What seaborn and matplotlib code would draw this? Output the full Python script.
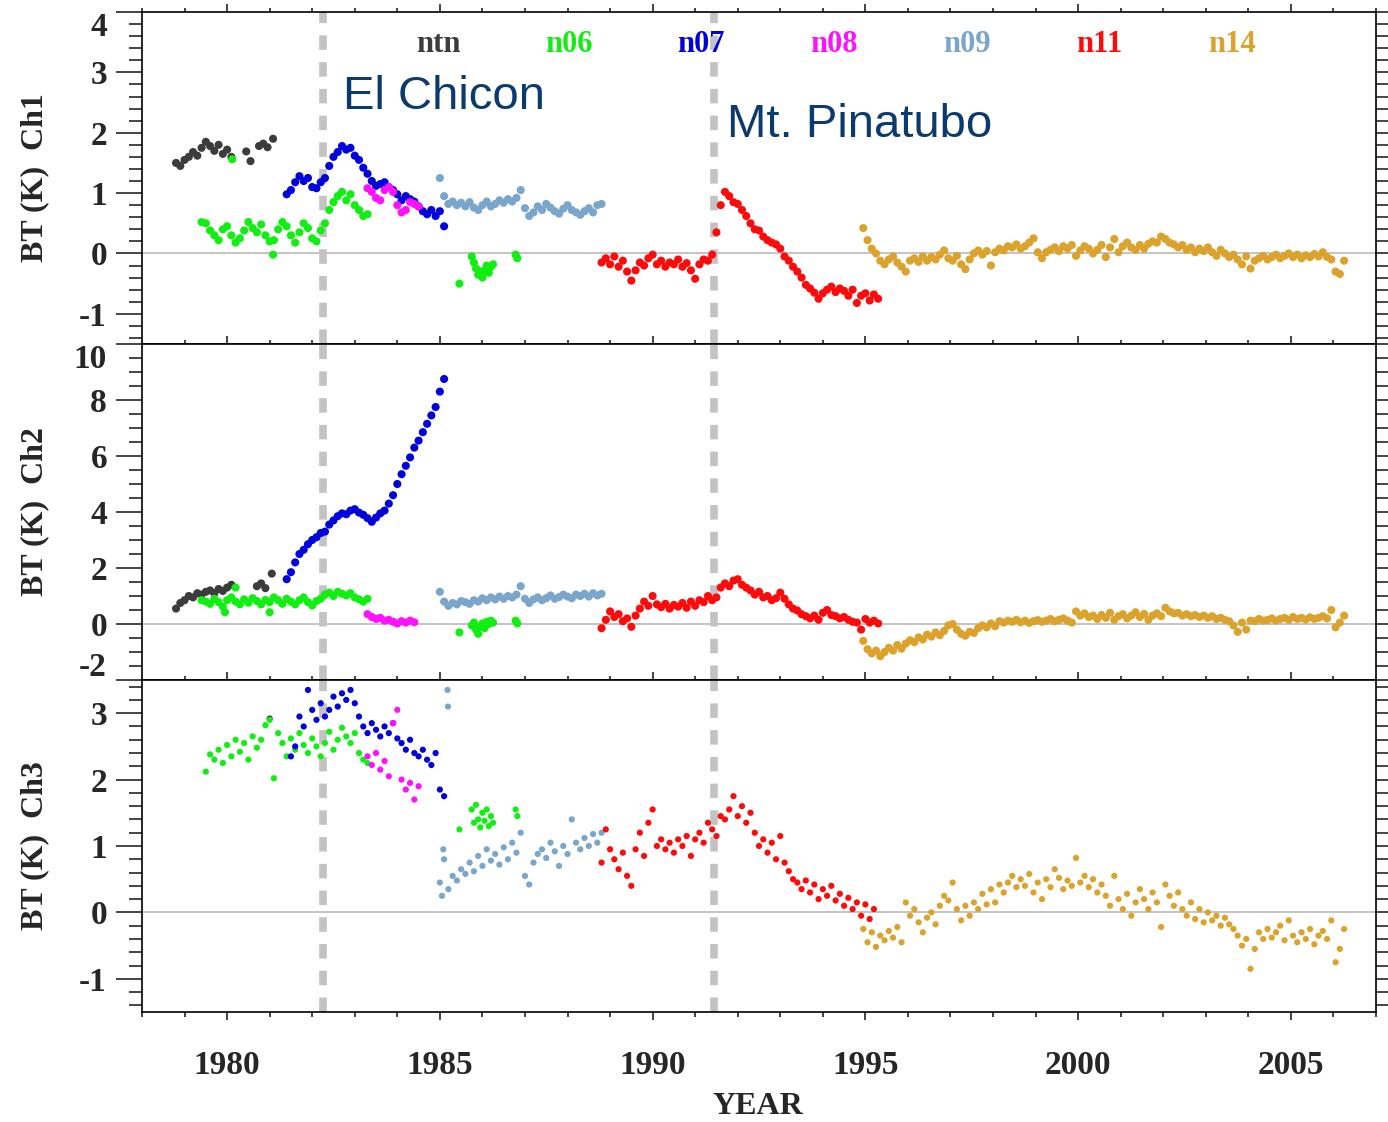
import numpy as np
import pandas as pd
import matplotlib
matplotlib.use("Agg")
import matplotlib.pyplot as plt
from matplotlib.ticker import MultipleLocator, FixedLocator
import seaborn as sns

# ---------------------------------------------------------------
# Satellites, colours and event years
# ---------------------------------------------------------------
satellites = ["ntn", "n06", "n07", "n08", "n09", "n11", "n14"]
sat_colors = ["#3c3c3c", "#11ee11", "#0000dd", "#ff11ff", "#7aa6cb", "#ff0a0a", "#dba22c"]
events = ["El Chicon", "Mt. Pinatubo"]
event_years = [1982.25, 1991.45]
STEP = 0.1  # sampling interval of the anomaly series (years)

# ---------------------------------------------------------------
# Channel 1 brightness-temperature anomalies (K)
# ---------------------------------------------------------------
ch1_start = {"ntn": 1978.8, "n06": 1979.4, "n07": 1981.4, "n08": 1983.3,
             "n09": 1985.0, "n11": 1988.8, "n14": 1994.95}
ch1_ntn = [1.50, 1.45, 1.55, 1.60, 1.68, 1.62, 1.75, 1.85, 1.78, 1.70, 1.80, 1.65, 1.72, 1.60]
ch1_n06 = [0.52, 0.50, 0.38, 0.30, 0.22, 0.40, 0.45, 0.30, 0.18, 0.25, 0.38, 0.52, 0.42, 0.35,
           0.48, 0.30, 0.20, 0.22, 0.40, 0.52, 0.45, 0.30, 0.18, 0.35, 0.50, 0.42, 0.25, 0.20,
           0.38, 0.50, 0.72, 0.85, 0.95, 1.02, 0.88, 0.98, 0.80, 0.72, 0.62, 0.65]
ch1_n07 = [0.98, 1.05, 1.18, 1.28, 1.20, 1.25, 1.10, 1.08, 1.18, 1.25, 1.45, 1.60, 1.68, 1.78,
           1.72, 1.75, 1.62, 1.55, 1.42, 1.32, 1.20, 1.12, 1.15, 1.18, 1.10, 1.05, 0.98, 0.88,
           0.95, 0.90, 0.86, 0.78, 0.70, 0.65, 0.72, 0.62, 0.70, 0.45]
ch1_n08 = [1.08, 1.02, 0.92, 0.88, 1.05, 1.10, 1.02, 0.80, 0.68, 0.72, 0.85, 0.82, 0.78]
ch1_n09 = [1.25, 0.95, 0.82, 0.86, 0.80, 0.84, 0.78, 0.85, 0.76, 0.72, 0.80, 0.86, 0.78, 0.82,
           0.88, 0.84, 0.90, 0.86, 0.92, 1.05, 0.75, 0.62, 0.68, 0.78, 0.72, 0.82, 0.76, 0.70,
           0.66, 0.74, 0.80, 0.72, 0.68, 0.64, 0.70, 0.75, 0.68, 0.80, 0.82]
ch1_n11 = [-0.15, -0.08, -0.18, -0.05, -0.22, -0.12, -0.30, -0.45, -0.28, -0.15, -0.20, -0.08,
           -0.02, -0.18, -0.12, -0.22, -0.15, -0.18, -0.10, -0.22, -0.16, -0.28, -0.42, -0.18,
           -0.10, -0.12, -0.02, 0.35, 0.80, 1.02, 0.95, 0.85, 0.82, 0.72, 0.62, 0.50, 0.40,
           0.38, 0.28, 0.22, 0.18, 0.15, 0.08, -0.05, -0.12, -0.22, -0.30, -0.40, -0.52, -0.58,
           -0.65, -0.75, -0.66, -0.60, -0.55, -0.64, -0.58, -0.62, -0.70, -0.60, -0.82, -0.70,
           -0.66, -0.78, -0.68, -0.75]
ch1_n14 = [0.42, 0.22, 0.08, 0.00, -0.12, -0.18, -0.10, -0.05, -0.15, -0.22, -0.30, -0.12,
           -0.08, -0.14, -0.05, -0.12, -0.06, -0.10, -0.02, 0.05, -0.08, -0.12, -0.04, -0.18,
           -0.26, -0.10, 0.00, 0.05, -0.02, 0.04, -0.20, 0.02, 0.08, 0.05, 0.12, 0.10, 0.15,
           0.08, 0.12, 0.18, 0.25, 0.02, -0.08, 0.02, 0.06, 0.10, 0.04, 0.12, 0.08, 0.14, -0.04,
           0.05, 0.12, 0.08, 0.00, 0.06, 0.14, -0.06, 0.10, 0.24, 0.02, 0.12, 0.18, 0.10, 0.06,
           0.14, 0.08, 0.16, 0.20, 0.18, 0.28, 0.24, 0.18, 0.15, 0.10, 0.14, 0.06, 0.10, 0.02,
           0.08, 0.04, 0.10, 0.02, -0.04, 0.06, 0.00, -0.06, -0.02, -0.10, -0.18, -0.05, -0.25,
           -0.12, -0.08, -0.04, -0.10, -0.06, -0.02, -0.08, -0.04, 0.00, -0.06, -0.02, -0.08,
           -0.03, -0.06, -0.01, -0.05, 0.02, -0.06, -0.10, -0.30, -0.34, -0.12]
ch1_extra_sat = ["ntn", "ntn", "ntn", "ntn", "ntn", "ntn", "n06", "n06",
                 "n06", "n06", "n06", "n06", "n06", "n06", "n06", "n06", "n06", "n06", "n06", "n06", "n06", "n06"]
ch1_extra_year = [1980.45, 1980.55, 1980.75, 1980.85, 1980.95, 1981.08, 1980.12, 1981.08,
                  1985.46, 1985.75, 1985.80, 1985.85, 1985.90, 1985.95, 1986.00, 1986.05, 1986.10,
                  1986.15, 1986.20, 1986.25, 1986.78, 1986.82]
ch1_extra_val = [1.69, 1.53, 1.78, 1.82, 1.76, 1.90, 1.56, -0.02,
                 -0.50, -0.05, -0.15, -0.25, -0.35, -0.30, -0.40, -0.28, -0.20,
                 -0.32, -0.22, -0.18, -0.02, -0.08]

# ---------------------------------------------------------------
# Channel 2 brightness-temperature anomalies (K)
# ---------------------------------------------------------------
ch2_start = {"ntn": 1978.8, "n06": 1979.4, "n07": 1981.4, "n08": 1983.3,
             "n09": 1985.0, "n11": 1988.8, "n14": 1994.95}
ch2_ntn = [0.55, 0.75, 0.85, 1.00, 0.95, 1.10, 1.05, 1.15, 1.20, 1.10, 1.25, 1.18, 1.30, 1.40]
ch2_n06 = [0.85, 0.80, 0.72, 0.90, 0.78, 0.62, 0.85, 0.95, 0.80, 0.70, 0.88, 0.76, 0.92, 0.82,
           0.70, 0.86, 0.78, 0.95, 0.85, 0.72, 0.90, 0.80, 0.70, 0.85, 0.95, 0.78, 0.66, 0.82,
           0.90, 1.05, 1.12, 1.00, 1.15, 1.08, 1.02, 1.10, 0.95, 0.88, 0.80, 0.90]
ch2_n07 = [1.60, 1.85, 2.20, 2.50, 2.65, 2.85, 3.00, 3.10, 3.25, 3.30, 3.55, 3.70, 3.85, 3.95,
           3.92, 4.05, 4.10, 3.98, 3.90, 3.78, 3.65, 3.80, 3.95, 4.05, 4.30, 4.60, 5.00, 5.35,
           5.65, 5.95, 6.30, 6.55, 6.85, 7.15, 7.45, 7.75, 8.30, 8.75]
ch2_n08 = [0.35, 0.25, 0.18, 0.22, 0.12, 0.15, 0.08, 0.02, 0.10, 0.05, 0.12, 0.06]
ch2_n09 = [1.15, 0.80, 0.65, 0.75, 0.70, 0.82, 0.78, 0.72, 0.85, 0.80, 0.92, 0.85, 0.95, 0.88,
           0.98, 0.90, 1.00, 0.95, 1.05, 1.35, 0.90, 0.75, 0.88, 0.95, 0.85, 0.92, 1.02, 0.90,
           0.96, 1.05, 0.98, 0.92, 1.05, 1.00, 1.08, 0.98, 1.10, 1.02, 1.08]
ch2_n11 = [-0.15, 0.15, 0.45, 0.25, 0.35, 0.10, 0.20, -0.10, 0.30, 0.55, 0.80, 0.65, 1.00, 0.70,
           0.60, 0.72, 0.55, 0.68, 0.62, 0.75, 0.58, 0.80, 0.65, 0.85, 0.78, 1.00, 0.85, 0.95,
           1.30, 1.45, 1.35, 1.55, 1.60, 1.40, 1.30, 1.20, 1.05, 1.15, 0.95, 1.00, 0.85, 0.92,
           1.12, 0.90, 0.70, 0.55, 0.48, 0.35, 0.28, 0.20, 0.30, 0.15, 0.40, 0.50, 0.32, 0.28,
           0.20, 0.25, 0.15, 0.08, 0.05, -0.20, 0.18, 0.05, 0.12, 0.02]
ch2_n14 = [-0.60, -0.90, -1.05, -0.95, -1.15, -1.00, -0.85, -0.95, -0.75, -0.88, -0.70, -0.58,
           -0.65, -0.48, -0.55, -0.38, -0.45, -0.30, -0.40, -0.25, -0.05, 0.00, -0.20, -0.35,
           -0.42, -0.28, -0.32, -0.15, -0.05, -0.12, 0.02, -0.08, 0.10, 0.05, 0.12, 0.08, 0.15,
           0.06, 0.12, 0.04, 0.10, 0.14, 0.08, 0.12, 0.18, 0.10, 0.15, 0.20, 0.12, 0.05, 0.45,
           0.30, 0.38, 0.25, 0.30, 0.18, 0.32, 0.22, 0.40, 0.15, 0.28, 0.35, 0.20, 0.30, 0.42,
           0.25, 0.36, 0.15, 0.30, 0.38, 0.28, 0.58, 0.45, 0.38, 0.40, 0.30, 0.35, 0.28, 0.32,
           0.25, 0.30, 0.22, 0.28, 0.18, 0.22, 0.15, 0.10, -0.05, -0.28, 0.05, -0.20, 0.12, 0.10,
           0.18, 0.12, 0.15, 0.20, 0.12, 0.18, 0.22, 0.15, 0.25, 0.18, 0.22, 0.16, 0.24, 0.18,
           0.22, 0.28, 0.20, 0.50, -0.12, 0.05, 0.30]
ch2_extra_sat = ["ntn", "ntn", "ntn", "ntn", "n06", "n06", "n06",
                 "n06", "n06", "n06", "n06", "n06", "n06", "n06", "n06", "n06", "n06", "n06",
                 "n06", "n06", "n06"]
ch2_extra_year = [1980.70, 1980.80, 1980.90, 1981.05, 1979.95, 1980.20, 1981.00,
                  1985.46, 1985.75, 1985.80, 1985.85, 1985.90, 1985.95, 1986.00, 1986.05,
                  1986.10, 1986.15, 1986.20, 1986.25, 1986.78, 1986.82]
ch2_extra_val = [1.35, 1.45, 1.28, 1.80, 0.42, 1.30, 0.42,
                 -0.30, -0.05, 0.05, -0.20, -0.35, -0.10, 0.02, -0.15,
                 0.08, 0.00, 0.12, 0.05, 0.12, 0.02]

# ---------------------------------------------------------------
# Channel 3 brightness-temperature anomalies (K)
# ---------------------------------------------------------------
ch3_start = {"n06": 1979.5, "n07": 1981.5, "n08": 1983.3,
             "n09": 1985.0, "n11": 1988.8, "n14": 1994.95}
ch3_n06 = [2.12, 2.38, 2.30, 2.45, 2.25, 2.52, 2.35, 2.60, 2.42, 2.55, 2.30, 2.65, 2.48, 2.60,
           2.82, 2.90, 2.02, 2.70, 2.55, 2.35, 2.62, 2.45, 2.70, 2.52, 2.40, 2.62, 2.50, 2.35,
           2.55, 2.72, 2.45, 2.60, 2.78, 2.65, 2.55, 2.70, 2.40, 2.30, 2.25]
ch3_n07 = [2.35, 2.50, 2.95, 2.80, 3.35, 3.05, 2.90, 3.15, 2.95, 3.05, 3.25, 3.10, 3.30, 3.20,
           3.35, 3.15, 2.95, 2.80, 2.70, 2.85, 2.75, 2.65, 2.80, 2.70, 2.85, 2.62, 2.55, 2.45,
           2.60, 2.40, 2.35, 2.45, 2.30, 2.22, 2.40, 1.85, 1.75]
ch3_n08 = [2.35, 2.22, 2.40, 2.15, 2.28, 2.05, 2.85, 3.05, 2.00, 1.85, 1.95, 1.70, 1.90]
ch3_n09 = [0.45, 0.80, 0.35, 0.55, 0.48, 0.65, 0.58, 0.75, 0.62, 0.85, 0.70, 0.95, 0.78, 0.88,
           0.72, 0.98, 0.80, 1.05, 0.90, 1.20, 0.55, 0.42, 0.75, 0.88, 0.95, 0.82, 1.05, 0.92,
           0.70, 1.00, 0.88, 1.40, 1.05, 0.95, 1.12, 1.00, 1.18, 1.05, 1.20]
ch3_n11 = [0.75, 1.25, 0.95, 0.80, 0.65, 0.90, 0.55, 0.40, 0.95, 1.20, 0.85, 1.35, 1.55, 1.00,
           1.10, 0.95, 1.05, 0.90, 1.10, 1.00, 1.15, 0.85, 1.10, 1.20, 1.05, 1.35, 1.25, 1.15,
           1.45, 1.40, 1.55, 1.75, 1.45, 1.60, 1.35, 1.50, 1.20, 1.00, 1.10, 0.90, 1.05, 0.80,
           1.15, 0.75, 0.62, 0.50, 0.45, 0.35, 0.48, 0.30, 0.42, 0.20, 0.35, 0.25, 0.40, 0.18,
           0.28, 0.10, 0.22, 0.05, 0.15, -0.05, 0.12, -0.10, 0.05]
ch3_n14 = [-0.25, -0.45, -0.30, -0.52, -0.35, -0.42, -0.28, -0.38, -0.22, -0.45, 0.15, -0.05,
           0.05, -0.15, -0.30, -0.08, 0.00, -0.18, 0.10, 0.25, 0.18, 0.45, 0.05, -0.12, 0.10,
           -0.05, 0.15, 0.05, 0.28, 0.12, 0.35, 0.15, 0.42, 0.30, 0.45, 0.55, 0.38, 0.50, 0.40,
           0.58, 0.30, 0.45, 0.20, 0.50, 0.38, 0.65, 0.52, 0.35, 0.48, 0.40, 0.82, 0.45, 0.55,
           0.38, 0.50, 0.30, 0.42, 0.25, 0.10, 0.55, 0.20, 0.05, 0.28, -0.05, 0.15, 0.35, 0.20,
           0.05, 0.30, 0.15, -0.22, 0.42, 0.25, 0.10, 0.30, 0.05, -0.05, 0.15, -0.10, 0.05,
           -0.15, 0.00, -0.12, -0.05, -0.20, -0.08, -0.18, -0.25, -0.35, -0.50, -0.40, -0.85,
           -0.55, -0.30, -0.40, -0.25, -0.38, -0.30, -0.20, -0.42, -0.12, -0.35, -0.45, -0.30,
           -0.40, -0.25, -0.48, -0.35, -0.28, -0.40, -0.12, -0.75, -0.55, -0.25]
ch3_extra_sat = ["ntn", "n09", "n09", "n09", "n09",
                 "n06", "n06", "n06", "n06", "n06", "n06", "n06", "n06", "n06", "n06", "n06",
                 "n06", "n06", "n06"]
ch3_extra_year = [1981.00, 1985.18, 1985.19, 1985.05, 1985.08,
                  1985.46, 1985.75, 1985.80, 1985.85, 1985.90, 1985.95, 1986.00, 1986.05,
                  1986.10, 1986.15, 1986.20, 1986.25, 1986.78, 1986.82]
ch3_extra_val = [2.92, 3.35, 3.10, 0.25, 0.95,
                 1.25, 1.55, 1.35, 1.62, 1.40, 1.28, 1.50, 1.38, 1.55, 1.30, 1.45, 1.35, 1.55, 1.45]

# axis settings for each panel
y_limits = [(-1.5, 4.0), (-2.0, 10.0), (-1.5, 3.5)]
y_major = [[-1, 0, 1, 2, 3, 4], [-2, 0, 2, 4, 6, 8, 10], [-1, 0, 1, 2, 3]]
y_minor_step = [0.2, 0.5, 0.2]
y_titles = ["BT (K)  Ch1", "BT (K)  Ch2", "BT (K)  Ch3"]
x_major = [1980, 1985, 1990, 1995, 2000, 2005]


def channel_frame(starts, series, extra_sat, extra_year, extra_val):
    parts = []
    for sat in satellites:
        if sat not in series:
            continue
        vals = np.asarray(series[sat], dtype=float)
        years = starts[sat] + STEP * np.arange(len(vals))
        parts.append(pd.DataFrame({"sat": sat, "year": years, "bt": vals}))
    parts.append(pd.DataFrame({"sat": extra_sat, "year": extra_year, "bt": extra_val}))
    df = pd.concat(parts, ignore_index=True)
    order = {s: i for i, s in enumerate(satellites)}
    df["rank"] = df["sat"].map(order)
    return df.sort_values(["rank", "year"], kind="stable").reset_index(drop=True)


frames = [
    channel_frame(ch1_start, {"ntn": ch1_ntn, "n06": ch1_n06, "n07": ch1_n07, "n08": ch1_n08,
                              "n09": ch1_n09, "n11": ch1_n11, "n14": ch1_n14},
                  ch1_extra_sat, ch1_extra_year, ch1_extra_val),
    channel_frame(ch2_start, {"ntn": ch2_ntn, "n06": ch2_n06, "n07": ch2_n07, "n08": ch2_n08,
                              "n09": ch2_n09, "n11": ch2_n11, "n14": ch2_n14},
                  ch2_extra_sat, ch2_extra_year, ch2_extra_val),
    channel_frame(ch3_start, {"n06": ch3_n06, "n07": ch3_n07, "n08": ch3_n08,
                              "n09": ch3_n09, "n11": ch3_n11, "n14": ch3_n14},
                  ch3_extra_sat, ch3_extra_year, ch3_extra_val),
]

# ---------------------------------------------------------------
# Figure
# ---------------------------------------------------------------
sns.set_style("white")
plt.rcParams["font.family"] = ["Liberation Serif", "DejaVu Serif"]
plt.rcParams["font.weight"] = "bold"
plt.rcParams["axes.linewidth"] = 1.2

W, H = 1388, 1122
fig = plt.figure(figsize=(W / 100, H / 100), dpi=100)
palette = dict(zip(satellites, sat_colors))

left, right = 142 / W, 1376 / W
edges_px = [12, 344, 680, 1012]
axes = []
for i in range(3):
    top = 1 - edges_px[i] / H
    bot = 1 - edges_px[i + 1] / H
    axes.append(fig.add_axes([left, bot, right - left, top - bot]))

PX = 0.72  # points per pixel at 100 dpi
marker_sizes = [34, 34, 20]
for i, ax in enumerate(axes):
    sns.scatterplot(data=frames[i], x="year", y="bt", hue="sat", palette=palette,
                    hue_order=satellites, s=marker_sizes[i], linewidth=0, legend=False,
                    ax=ax, zorder=3)
    ax.axhline(0, color="#b4b4b4", lw=1.1, zorder=1)
    for ey in event_years:
        ax.axvline(ey, color="#c3c3c3", lw=5.5, linestyle=(0, (1.9, 1.6)), zorder=2)
    ax.set_xlim(1978, 2007)
    ax.set_ylim(*y_limits[i])
    ax.set_xlabel("")
    ax.set_ylabel("")

    # y ticks: labels at the panel edges are nudged inward
    lo, hi = y_limits[i]
    ticks = y_major[i]
    ax.yaxis.set_major_locator(FixedLocator(ticks))
    ax.yaxis.set_minor_locator(MultipleLocator(y_minor_step[i]))
    labels = []
    for t in ticks:
        if t == hi or t == lo:
            labels.append("")
            shift = -16 if t == hi else 12
            ax.annotate(f"{t:g}", xy=(0, t), xycoords=("axes fraction", "data"),
                        xytext=(-(26 + 9) * PX, shift * PX), textcoords="offset points",
                        ha="right", va="center", fontsize=24, fontweight="bold")
        else:
            labels.append(f"{t:g}")
    ax.set_yticklabels(labels)
    ax.tick_params(axis="y", which="major", direction="out", length=26 * PX, width=1.2,
                   left=True, right=True, labelsize=24, pad=9 * PX)
    ax.tick_params(axis="y", which="minor", direction="out", length=13 * PX, width=1.2,
                   left=True, right=True)

    ax.xaxis.set_major_locator(FixedLocator(x_major))
    ax.xaxis.set_minor_locator(MultipleLocator(1))
    last = i == 2
    ax.tick_params(axis="x", which="major", direction="out", length=8 * PX, width=1.2,
                   top=True, bottom=last, labelbottom=last, labelsize=24, pad=30 * PX)
    ax.tick_params(axis="x", which="minor", direction="out", length=4.5 * PX, width=1.2,
                   top=True, bottom=last)
    for sp in ax.spines.values():
        sp.set_visible(True)
        sp.set_color("black")

# satellite legend across the top panel
legend_x = [438, 569, 701, 834, 967, 1099, 1232]
for sat, col, xp in zip(satellites, sat_colors, legend_x):
    fig.text(xp / W, 1 - 44 / H, sat, color=col, fontsize=22, fontweight="bold",
             ha="center", va="center")

# volcanic eruption annotations
event_text_xy = [(343, 97), (727, 125)]
for name, (xp, yp) in zip(events, event_text_xy):
    fig.text(xp / W, 1 - yp / H, name, color="#0b3a6e", fontsize=34,
             family=["Liberation Sans", "DejaVu Sans"], fontweight="normal",
             ha="left", va="center")

# axis titles
for i, title in enumerate(y_titles):
    yc = 1 - (edges_px[i] + edges_px[i + 1]) / 2 / H
    fig.text(35 / W, yc, title, rotation=90, fontsize=23, fontweight="bold",
             ha="center", va="center")
fig.text(758 / W, 1 - 1107 / H, "YEAR", fontsize=23, fontweight="bold",
         ha="center", va="center")

fig.savefig("out.png", dpi=100)
